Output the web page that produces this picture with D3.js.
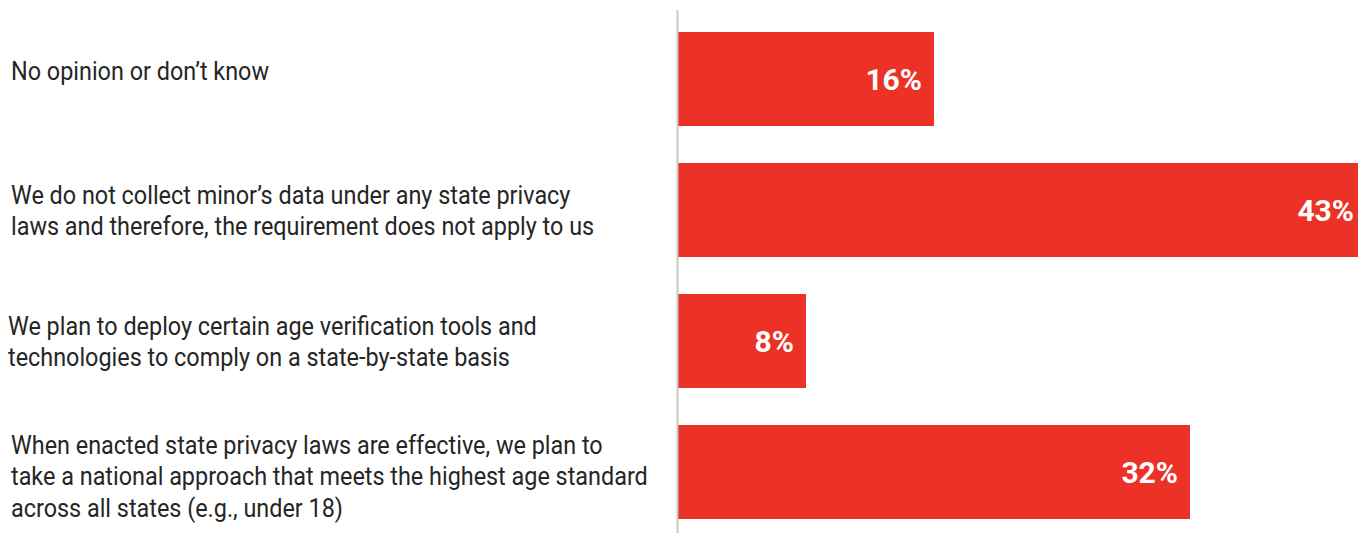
<!DOCTYPE html>
<html>
<head>
<meta charset="utf-8">
<script src="https://cdn.jsdelivr.net/npm/d3@7"></script>
<style>
  html, body { margin: 0; padding: 0; background: #ffffff; }
  svg { display: block; }
</style>
</head>
<body>
<div id="chart"></div>
<script>
// Survey responses: how organisations plan to handle minors' age requirements
const categories = [
  "No opinion or don\u2019t know",
  "We do not collect minor\u2019s data under any state privacy laws and therefore, the requirement does not apply to us",
  "We plan to deploy certain age verification tools and technologies to comply on a state-by-state basis",
  "When enacted state privacy laws are effective, we plan to take a national approach that meets the highest age standard across all states (e.g., under 18)"
];
const labelLines = [
  ["No opinion or don\u2019t know"],
  ["We do not collect minor\u2019s data under any state privacy",
   "laws and therefore, the requirement does not apply to us"],
  ["We plan to deploy certain age verification tools and",
   "technologies to comply on a state-by-state basis"],
  ["When enacted state privacy laws are effective, we plan to",
   "take a national approach that meets the highest age standard",
   "across all states (e.g., under 18)"]
];
const values = [16, 43, 8, 32];

const W = 1358, H = 533;
const axisX = 678;
const barColor = "#EC3126";

const svg = d3.select("#chart").append("svg")
  .attr("width", W).attr("height", H);

const y = d3.scaleBand()
  .domain(categories)
  .range([13.5, 537.5])
  .paddingInner(0.2824)
  .paddingOuter(0.1412);

const x = d3.scaleLinear()
  .domain([0, 43])
  .range([axisX, axisX + 688]);

// bars
svg.append("g").selectAll("rect")
  .data(values)
  .join("rect")
  .attr("x", x(0))
  .attr("y", (d, i) => y(categories[i]))
  .attr("width", d => x(d) - x(0))
  .attr("height", y.bandwidth())
  .attr("fill", barColor);

// vertical baseline
svg.append("line")
  .attr("x1", axisX - 0.5).attr("x2", axisX - 0.5)
  .attr("y1", 10).attr("y2", H)
  .attr("stroke", "#c8c8c8")
  .attr("stroke-width", 2);

// value labels inside bar ends
svg.append("g").selectAll("text")
  .data(values)
  .join("text")
  .attr("x", d => x(d) - 12)
  .attr("y", (d, i) => y(categories[i]) + y.bandwidth() / 2)
  .attr("dy", "0.36em")
  .attr("text-anchor", "end")
  .attr("fill", "#ffffff")
  .attr("font-family", "Roboto, 'Noto Sans', sans-serif")
  .attr("font-weight", 700)
  .attr("font-size", 30)
  .text(d => d + "%");

// category labels, narrowed to a condensed width;
// small hand nudges keep each block where the layout placed it
const lineH = 31.5;
const sx = 0.9;
const nudgeX = [11, 11, 8, 11];
const nudgeY = [-8, 0, 0, 4];
const labels = svg.append("g").selectAll("g")
  .data(labelLines)
  .join("g")
  .attr("transform", (lines, i) => {
    const cy = y(categories[i]) + y.bandwidth() / 2 + nudgeY[i];
    return `translate(${nudgeX[i]},${cy}) scale(${sx},1)`;
  });

labels.append("text")
  .attr("font-family", "Roboto, 'Noto Sans', sans-serif")
  .attr("font-size", 26)
  .attr("fill", "#262626")
  .each(function(lines) {
    const t = d3.select(this);
    const n = lines.length;
    lines.forEach((ln, k) => {
      t.append("tspan")
        .attr("x", 0)
        .attr("y", (k - (n - 1) / 2) * lineH)
        .attr("dy", "0.36em")
        .text(ln);
    });
  });
</script>
</body>
</html>
